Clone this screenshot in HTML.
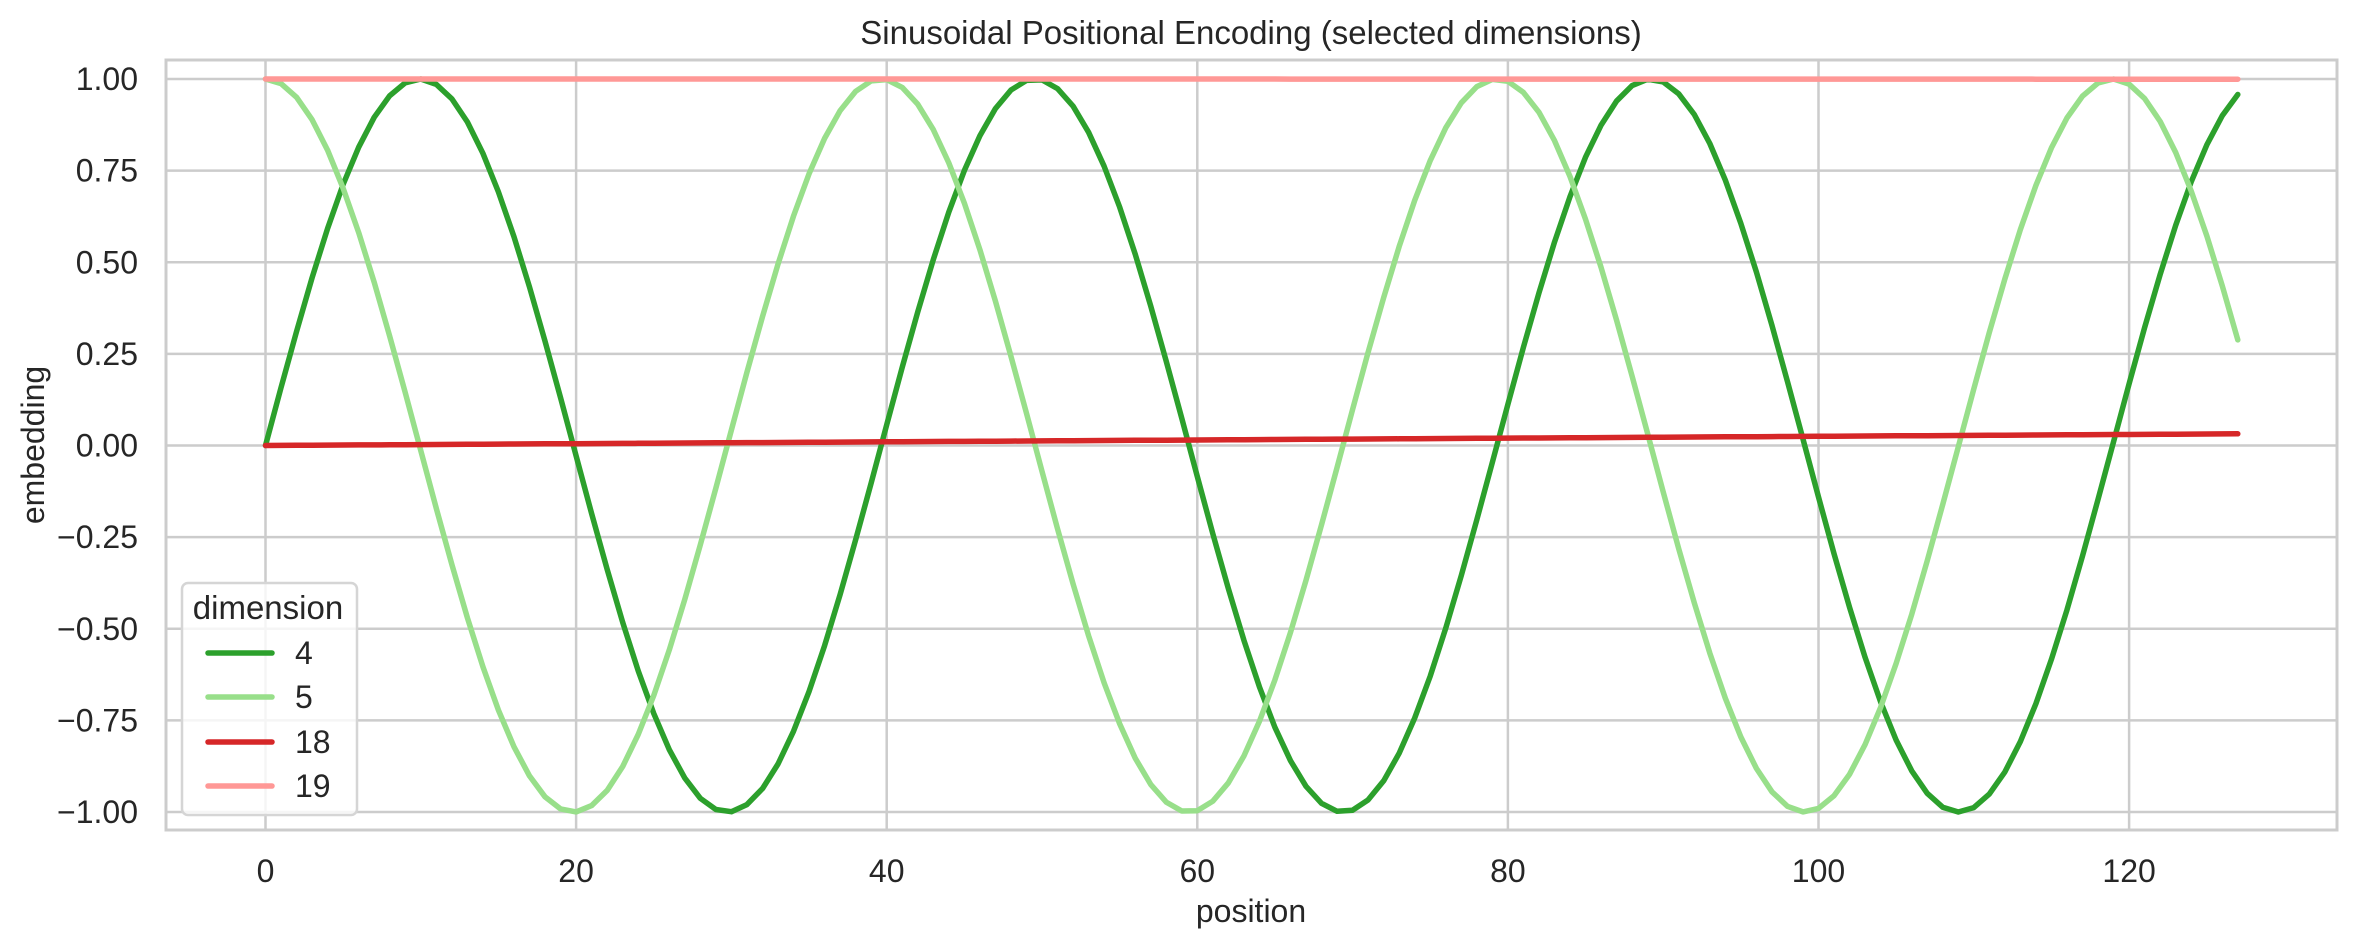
<!DOCTYPE html>
<html><head><meta charset="utf-8"><style>
html,body{margin:0;padding:0;background:#fff}
svg{display:block}
text{font-family:"Liberation Sans",Arial,sans-serif;fill:#262626}
</style></head><body>
<svg id="s" width="2355" height="948" xmlns="http://www.w3.org/2000/svg"></svg>
<script>
const s=document.getElementById('s');
const X0=265.5,XS=15.53,Y0=445.5,YS=366.5;
const L=166,R=2337,T=60,B=830;
const px=x=>X0+x*XS, py=y=>Y0-y*YS;
let h='';
for(let v=0;v<=120;v+=20)h+=`<line x1="${px(v)}" y1="${T}" x2="${px(v)}" y2="${B}" stroke="#cccccc" stroke-width="2.5"/>`;
for(let i=0;i<=8;i++){const v=1-i*0.25;h+=`<line x1="${L}" y1="${py(v)}" x2="${R}" y2="${py(v)}" stroke="#cccccc" stroke-width="2.5"/>`;}
h+=`<rect x="${L}" y="${T}" width="${R-L}" height="${B-T}" fill="none" stroke="#cccccc" stroke-width="3"/>`;
for(let v=0;v<=120;v+=20)h+=`<text x="${px(v)}" y="882" font-size="32" text-anchor="middle">${v}</text>`;
for(let i=0;i<=8;i++){const v=1-i*0.25;const t=(v<0?'\u2212':'')+Math.abs(v).toFixed(2);h+=`<text x="138" y="${py(v)+11}" font-size="32" text-anchor="end">${t}</text>`;}
h+=`<text x="1251" y="922" font-size="32" text-anchor="middle">position</text>`;
h+=`<text transform="translate(44,445) rotate(-90)" font-size="32" text-anchor="middle">embedding</text>`;
h+=`<text x="1251" y="44" font-size="33" text-anchor="middle">Sinusoidal Positional Encoding (selected dimensions)</text>`;
function series(f,c){let p='';for(let i=0;i<128;i++)p+=(i?'L':'M')+px(i).toFixed(1)+','+py(f(i)).toFixed(1);return `<path d="${p}" fill="none" stroke="${c}" stroke-width="5.5" stroke-linejoin="round" stroke-linecap="round"/>`;}
const w4=1/Math.pow(10000,4/20),w18=1/Math.pow(10000,18/20);
h+=series(i=>Math.sin(i*w4),'#2ca02c');
h+=series(i=>Math.cos(i*w4),'#98df8a');
h+=series(i=>Math.sin(i*w18),'#d62728');
h+=series(i=>Math.cos(i*w18),'#ff9896');
h+=`<rect x="182" y="583" width="175" height="232" rx="6" fill="#fff" fill-opacity="0.8" stroke="#d5d5d5" stroke-width="2.5"/>`;
h+=`<text x="268" y="619" font-size="33" text-anchor="middle">dimension</text>`;
const le=[['4','#2ca02c',653],['5','#98df8a',697],['18','#d62728',742],['19','#ff9896',786]];
for(const [t,c,y] of le){h+=`<line x1="208" y1="${y}" x2="272" y2="${y}" stroke="${c}" stroke-width="5.5" stroke-linecap="round"/><text x="295" y="${y+11}" font-size="32">${t}</text>`;}
s.innerHTML=h;
</script>
</body></html>
